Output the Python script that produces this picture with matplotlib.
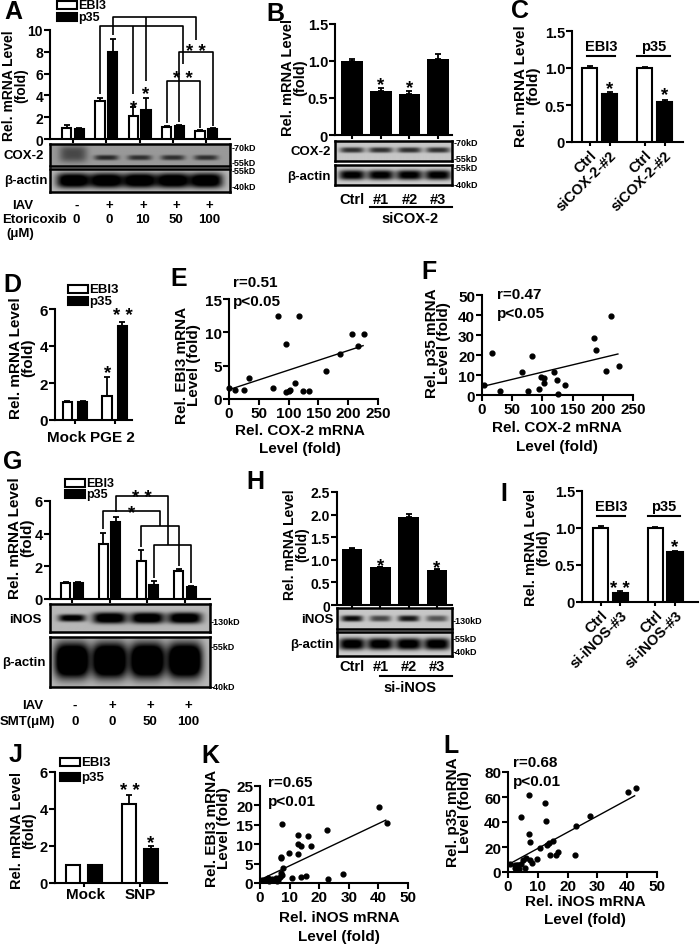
import numpy as np
import matplotlib
matplotlib.use("Agg")
import matplotlib.pyplot as plt
from matplotlib.patches import Rectangle
from matplotlib.lines import Line2D
from matplotlib.transforms import blended_transform_factory

plt.rcParams['font.family'] = ['Liberation Sans', 'DejaVu Sans']
plt.rcParams['font.weight'] = 'bold'
plt.rcParams['axes.linewidth'] = 1.5

# ---------------- data ----------------
# A: IAV + etoricoxib
A_EBI3 = [1.0, 3.5, 2.1, 1.1, 0.72]
A_EBI3_ERR = [0.3, 0.3, 0.8, 0.1, 0.06]
A_P35 = [0.95, 8.0, 2.7, 1.2, 0.9]
A_P35_ERR = [0.1, 1.2, 1.1, 0.1, 0.1]
A_IAV = ['-', '+', '+', '+', '+']
A_DOSE = ['0', '0', '10', '50', '100']
A_COX2_BAND = [0.32, 0.45, 0.42, 0.42, 0.42]
A_ACTIN_BAND = [0.9, 0.9, 0.9, 0.9, 0.9]

# B: siCOX-2
B_LANES = ['Ctrl', '#1', '#2', '#3']
B_VAL = [1.0, 0.6, 0.56, 1.03]
B_ERR = [0.03, 0.04, 0.03, 0.07]
B_COX2_BAND = [0.6, 0.6, 0.6, 0.6]
B_ACTIN_BAND = [0.85, 0.85, 0.85, 0.85]

# C: siCOX-2-#2
C_LABELS = ['Ctrl', 'siCOX-2-#2', 'Ctrl', 'siCOX-2-#2']
C_VAL = [1.0, 0.65, 1.0, 0.54]
C_ERR = [0.03, 0.02, 0.01, 0.03]

# D: PGE2
D_GROUPS = ['Mock', 'PGE 2']
D_EBI3 = [1.0, 1.3]
D_EBI3_ERR = [0.05, 1.0]
D_P35 = [1.0, 5.1]
D_P35_ERR = [0.03, 0.2]

# E / F: correlation with COX-2
E_COX2 = [0, 10, 25, 34, 73, 82, 95, 96, 100, 102, 111, 117, 124, 135, 163, 186, 207, 216, 227]
E_EBI3 = [1.7, 1.4, 1.4, 3.1, 1.7, 12.5, 1.0, 8.2, 1.2, 1.3, 2.4, 12.4, 1.2, 1.2, 4.2, 6.8, 9.8, 7.9, 9.7]
E_FIT_X = [0, 225]
E_FIT_Y = [1.4, 8.0]
F_COX2 = [3, 17, 29, 67, 76, 83, 95, 97, 102, 103, 119, 124, 125, 137, 185, 189, 206, 214, 226]
F_P35 = [5, 21, 2.2, 11.7, 2, 19.7, 3, 8.8, 6.2, 8.7, 11.5, 7.5, 0.5, 5.2, 28.7, 22.5, 12, 39.5, 14.7]
F_FIT_X = [0, 225]
F_FIT_Y = [4.2, 20.5]

# G: IAV + SMT
G_EBI3 = [1.0, 3.35, 2.3, 1.7]
G_EBI3_ERR = [0.05, 0.7, 0.7, 0.12]
G_P35 = [1.0, 4.7, 0.85, 0.72]
G_P35_ERR = [0.03, 0.35, 0.25, 0.07]
G_IAV = ['-', '+', '+', '+']
G_DOSE = ['0', '0', '50', '100']
G_INOS_BAND = [0.8, 0.9, 0.9, 0.9]
G_ACTIN_BAND = [1.15, 1.15, 1.15, 1.15]

# H: si-iNOS
H_LANES = ['Ctrl', '#1', '#2', '#3']
H_VAL = [1.25, 0.83, 1.95, 0.78]
H_ERR = [0.02, 0.02, 0.06, 0.02]
H_INOS_BAND = [0.75, 0.5, 0.7, 0.45]
H_ACTIN_BAND = [0.9, 0.9, 0.9, 0.9]

# I: si-iNOS-#3
I_LABELS = ['Ctrl', 'si-iNOS-#3', 'Ctrl', 'si-iNOS-#3']
I_VAL = [1.0, 0.12, 1.0, 0.68]
I_ERR = [0.03, 0.03, 0.02, 0.01]

# J: SNP
J_GROUPS = ['Mock', 'SNP']
J_EBI3 = [1.0, 4.25]
J_EBI3_ERR = [0.0, 0.5]
J_P35 = [1.0, 1.85]
J_P35_ERR = [0.0, 0.15]

# K / L: correlation with iNOS
K_INOS = [0.6, 2.0, 2.2, 2.8, 3.1, 3.9, 4.7, 5.4, 5.6, 6.2, 6.7, 7.0, 7.3, 7.0, 7.1, 7.3,
          7.9, 9.9, 10.9, 12.7, 12.9, 12.9, 13.8, 14.0, 15.5, 16.1, 17.1, 22.7, 23.0, 27.9, 40.2, 42.9]
K_EBI3 = [0.7, 0.9, 1.1, 1.3, 0.6, 1.1, 0.8, 1.3, 0.4, 0.9, 1.5, 2.6, 2.0, 6.4, 6.8, 15.2,
          3.8, 7.8, 1.3, 10.1, 12.4, 7.5, 1.5, 9.5, 1.8, 12.2, 9.5, 13.7, 1.1, 2.4, 19.7, 15.4]
K_FIT_X = [0.5, 42.5]
K_FIT_Y = [1.0, 16.2]
L_INOS = [0.6, 2.2, 2.2, 2.6, 2.8, 3.0, 3.4, 3.7, 4.5, 4.5, 5.1, 5.6, 6.2, 7.0, 7.1, 7.3, 7.3,
          7.9, 9.6, 10.9, 12.4, 12.9, 13.1, 13.8, 14.0, 15.2, 16.1, 16.9, 22.5, 22.8, 27.5, 40.2, 42.9]
L_P35 = [6.6, 5.3, 3.2, 4.0, 2.7, 5.8, 5.3, 2.1, 6.6, 44.3, 9.3, 3.2, 11.1, 61.5, 30.5, 24.4, 9.3,
         7.4, 10.6, 19.1, 55.2, 41.1, 22.0, 23.3, 13.8, 25.2, 13.3, 16.4, 13.3, 37.1, 44.6, 64.2, 67.6]
L_FIT_X = [0.5, 42.5]
L_FIT_Y = [6.5, 61.0]

# ---------------- helpers ----------------
W, H = 700, 945
fig = plt.figure(figsize=(7, 9.45), dpi=100)


def px_axes(left, top, width, height):
    return fig.add_axes([left / W, 1 - (top + height) / H, width / W, height / H])


def T(x, y, s, fs=10, ha='center', va='center', rot=0, **kw):
    fig.text(x / W, 1 - y / H, s, fontsize=fs, ha=ha, va=va, rotation=rot,
             fontweight='bold', **kw)


def ylab(x, y, s, fs=10.5):
    T(x, y, s, fs=fs, rot=90, linespacing=0.85)


def letter(x, y, s):
    T(x, y, s, fs=18, ha='left')


def hline(x1, x2, y, lw=1.5):
    fig.add_artist(Line2D([x1 / W, x2 / W], [1 - y / H] * 2, color='k', lw=lw))


def legend(x, y1, y2, fs=9.5):
    for y, fc, lab in [(y1, 'white', 'EBI3'), (y2, 'black', 'p35')]:
        fig.add_artist(Rectangle((x / W, 1 - (y + 4) / H), 20 / W, 8 / H,
                                 transform=fig.transFigure, fc=fc, ec='k', lw=1.5))
        T(x + 21, y, lab, fs=fs, ha='left')


def style(ax, fs=10):
    for s in ['top', 'right']:
        ax.spines[s].set_visible(False)
    ax.tick_params(direction='out', length=4, width=1.5, labelsize=fs, pad=1)


def star(ax, x, y, s, fs=13.5):
    if s == '**':
        s = '* *'
    ax.annotate(s, (x, y), xytext=(0, -0.575 * fs), textcoords='offset points',
                ha='center', va='baseline', fontsize=fs, annotation_clip=False)


def bracket_line(ax, xs, ys):
    ax.plot(xs, ys, color='k', lw=1.2, clip_on=False, solid_capstyle='butt')


def paired_bars(ax, white, white_err, black, black_err, off, width):
    x = np.arange(len(white))
    for xs, v, e, col in [(x - off, white, white_err, 'white'), (x + off, black, black_err, 'black')]:
        ax.bar(xs, v, width, color=col, edgecolor='black', linewidth=1.5, zorder=3)
        ax.errorbar(xs, v, yerr=[np.zeros(len(v)), e], fmt='none', ecolor='black',
                    elinewidth=1.3, capsize=2.5, capthick=1.3, zorder=2, clip_on=False)
    ax.set_xticks(x)
    ax.set_xticklabels([])
    ax.tick_params(axis='x', length=3)


def blot(rect, xlim, centers, bands, bg, yc, thick, halfw):
    ax = px_axes(*rect)
    n = len(centers)
    yc, thick, halfw = [np.broadcast_to(v, n) for v in (yc, thick, halfw)]
    xs = np.linspace(xlim[0], xlim[1], 300)
    ys = np.linspace(0, 1, 80)
    X, Y = np.meshgrid(xs, ys)
    img = np.full_like(X, bg)
    for c, a, y0, t, hw in zip(centers, bands, yc, thick, halfw):
        img -= a * np.exp(-np.abs((X - c) / hw) ** 4) * np.exp(-np.abs((Y - y0) / t) ** 3)
    ax.imshow(np.clip(img, 0, 1), cmap='gray', vmin=0, vmax=1, aspect='auto',
              extent=[xlim[0], xlim[1], 1, 0], interpolation='bilinear')
    ax.set_xlim(xlim)
    ax.set_xticks([])
    ax.set_yticks([])
    for s in ax.spines.values():
        s.set_linewidth(1.8)
    return ax


def lane_text(ax, xs, y, labels, fs=9.5):
    tr = blended_transform_factory(ax.transData, fig.transFigure)
    for x, s in zip(xs, labels):
        ax.text(x, 1 - y / H, s, transform=tr, ha='center', va='center',
                fontsize=fs, fontweight='bold', clip_on=False)


def scatter_panel(rect, xs, ys, fx, fy, xlim, ylim, xticks, yticks):
    ax = px_axes(*rect)
    style(ax, 11)
    ax.scatter(xs, ys, s=12, color='black', zorder=3, clip_on=False)
    ax.plot(fx, fy, color='black', lw=1.0)
    ax.set_xlim(xlim)
    ax.set_ylim(ylim)
    ax.set_xticks(xticks)
    ax.set_yticks(yticks)
    return ax


# ---------------- panel A ----------------
axA = px_axes(50, 31, 180, 109)
style(axA, 10)
A_XLIM = (-0.69, 4.71)
axA.set_xlim(A_XLIM)
axA.set_ylim(0, 10)
axA.set_yticks([0, 2, 4, 6, 8, 10])
paired_bars(axA, A_EBI3, A_EBI3_ERR, A_P35, A_P35_ERR, 0.19, 0.28)
# significance brackets
bracket_line(axA, [1.19, 1.19, 3.69, 3.69], [9.5, 11.15, 11.15, 9.1])
bracket_line(axA, [2.19, 2.19], [5.35, 11.15])
bracket_line(axA, [0.81, 0.81, 3.31, 3.31], [4.1, 10.4, 10.4, 6.9])
bracket_line(axA, [1.81, 1.81], [4.1, 10.4])
bracket_line(axA, [3.19, 3.19, 4.19, 4.19], [1.6, 8.0, 8.0, 1.2])
bracket_line(axA, [2.81, 2.81, 3.81, 3.81], [1.5, 5.35, 5.35, 1.0])
star(axA, 1.81, 3.5, '*')
star(axA, 2.19, 4.7, '*')
star(axA, 3.69, 8.6, '**')
star(axA, 3.31, 6.1, '**')
lanesA = np.arange(5)
blot((50, 145, 180, 22), A_XLIM, lanesA, A_COX2_BAND, 0.6,
     [0.45, 0.62, 0.62, 0.62, 0.62], [0.38, 0.12, 0.12, 0.12, 0.12], [0.42, 0.36, 0.36, 0.36, 0.36])
blot((50, 170, 180, 23), A_XLIM, lanesA, A_ACTIN_BAND, 0.72, 0.5, 0.33, 0.5)
legend(57, 6, 18, fs=9)
letter(4, 12, 'A')
ylab(15, 86, 'Rel. mRNA Level\n(fold)', fs=10)
T(44, 156, 'COX-2', fs=9.5, ha='right')
T(48, 181, 'β-actin', fs=9.5, ha='right')
for y, s in [(149, '-70kD'), (163, '-55kD'), (172, '-55kD'), (188, '-40kD')]:
    T(232, y, s, fs=6.5, ha='left')
T(33, 206, 'IAV', fs=9.5, ha='right')
T(2, 220, 'Etoricoxib', fs=9.5, ha='left')
T(20, 234, '(μM)', fs=9.5)
lane_text(axA, lanesA + 0.1, 206, A_IAV)
lane_text(axA, lanesA + 0.1, 220, A_DOSE)

# ---------------- panel B ----------------
axB = px_axes(335, 25, 117, 111)
style(axB, 10.5)
B_XLIM = (-0.59, 3.48)
axB.set_xlim(B_XLIM)
axB.set_ylim(0, 1.5)
axB.set_yticks([0, 0.5, 1.0, 1.5])
axB.set_yticklabels(['0', '0.5', '1.0', '1.5'])
xb = np.arange(4)
axB.bar(xb, B_VAL, 0.76, color='black', zorder=3)
axB.errorbar(xb, B_VAL, yerr=[np.zeros(4), B_ERR], fmt='none', ecolor='black',
             elinewidth=1.3, capsize=2.5, capthick=1.3, zorder=2)
axB.set_xticks(xb)
axB.set_xticklabels([])
axB.tick_params(axis='x', length=3)
star(axB, 1, 0.76, '*')
star(axB, 2, 0.72, '*')
blot((335, 142, 117, 20), B_XLIM, xb, B_COX2_BAND, 0.78, 0.45, 0.14, 0.42)
blot((335, 166, 117, 20), B_XLIM, xb, B_ACTIN_BAND, 0.8, 0.5, 0.25, 0.46)
letter(266, 14, 'B')
ylab(294, 78, 'Rel. mRNA Level\n(fold)', fs=10.5)
T(331, 152, 'COX-2', fs=9.5, ha='right')
T(331, 177, 'β-actin', fs=9.5, ha='right')
for y, s in [(144, '-70kD'), (160, '-55kD'), (169, '-55kD'), (185, '-40kD')]:
    T(454, y, s, fs=6.5, ha='left')
lane_text(axB, xb, 200, B_LANES, fs=10.5)
hline(370, 452, 208)
T(410, 219, 'siCOX-2', fs=10.5)

# ---------------- panel C ----------------
axC = px_axes(572, 32, 111, 111)
style(axC, 10.5)
xc = [0, 1, 2.75, 3.75]
axC.set_xlim(-0.875, 4.675)
axC.set_ylim(0, 1.5)
axC.set_yticks([0, 0.5, 1.0, 1.5])
axC.set_yticklabels(['0', '0.5', '1.0', '1.5'])
axC.bar(xc, C_VAL, 0.75, color=['white', 'black', 'white', 'black'],
        edgecolor='black', linewidth=1.5, zorder=3)
axC.errorbar(xc, C_VAL, yerr=[np.zeros(4), C_ERR], fmt='none', ecolor='black',
             elinewidth=1.3, capsize=2.5, capthick=1.3, zorder=2)
axC.set_xticks(xc)
axC.set_xticklabels(C_LABELS, rotation=45, ha='right', rotation_mode='anchor', fontsize=10.5)
axC.tick_params(axis='x', length=3)
star(axC, 1, 0.81, '*')
star(axC, 3.75, 0.72, '*')
letter(511, 11, 'C')
ylab(527, 86, 'Rel. mRNA Level\n(fold)', fs=11)
T(601, 47, 'EBI3', fs=10.5)
hline(587, 615, 57)
T(654, 47, 'p35', fs=10.5)
hline(637, 670, 57)

# ---------------- panel D ----------------
axD = px_axes(55, 310, 77, 111)
style(axD, 11)
axD.set_xlim(-0.5, 1.43)
axD.set_ylim(0, 6)
axD.set_yticks([0, 2, 4, 6])
paired_bars(axD, D_EBI3, D_EBI3_ERR, D_P35, D_P35_ERR, 0.19, 0.24)
star(axD, 1 - 0.19, 2.9, '*')
star(axD, 1 + 0.19, 6.0, '**')
legend(68, 290, 302)
letter(3, 285, 'D')
ylab(22, 358, 'Rel. mRNA Level\n(fold)', fs=11)
T(67, 438, D_GROUPS[0], fs=11)
T(112, 438, D_GROUPS[1], fs=11)

# ---------------- panel E ----------------
axE = scatter_panel((229, 300, 149, 100), E_COX2, E_EBI3, E_FIT_X, E_FIT_Y,
                    (0, 250), (0, 15), [0, 50, 100, 150, 200, 250], [0, 5, 10, 15])
letter(170, 279, 'E')
ylab(188, 365, 'Rel. EBI3 mRNA\nLevel (fold)', fs=11)
T(233, 283, 'r=0.51', fs=11, ha='left')
T(233, 302, 'p<0.05', fs=11, ha='left')
T(300, 431, 'Rel. COX-2 mRNA', fs=11)
T(300, 449, 'Level (fold)', fs=11)

# ---------------- panel F ----------------
axF = scatter_panel((482, 296, 151, 100), F_COX2, F_P35, F_FIT_X, F_FIT_Y,
                    (0, 250), (0, 50), [0, 50, 100, 150, 200, 250], [0, 10, 20, 30, 40, 50])
letter(421, 272, 'F')
ylab(438, 343, 'Rel. p35 mRNA\nLevel (fold)', fs=11)
T(497, 295, 'r=0.47', fs=11, ha='left')
T(497, 314, 'p<0.05', fs=11, ha='left')
T(557, 428, 'Rel. COX-2 mRNA', fs=11)
T(557, 447, 'Level (fold)', fs=11)

# ---------------- panel G ----------------
axG = px_axes(50, 502, 160, 98)
style(axG, 10.5)
G_XLIM = (-0.58, 3.66)
axG.set_xlim(G_XLIM)
axG.set_ylim(0, 6)
axG.set_yticks([0, 2, 4, 6])
paired_bars(axG, G_EBI3, G_EBI3_ERR, G_P35, G_P35_ERR, 0.167, 0.24)
bracket_line(axG, [1.167, 1.167, 2.55, 2.55], [5.3, 6.3, 6.3, 3.29])
bracket_line(axG, [0.833, 0.833, 2.333, 2.333], [4.3, 5.39, 5.39, 4.47])
bracket_line(axG, [1.833, 1.833, 2.833, 2.833], [3.2, 4.47, 4.47, 2.0])
bracket_line(axG, [2.167, 2.167, 3.167, 3.167], [1.3, 3.29, 3.29, 1.0])
star(axG, 1.86, 6.6, '**')
star(axG, 1.58, 5.7, '*')
lanesG = np.arange(4)
blot((50, 605, 160, 28), G_XLIM, lanesG, G_INOS_BAND, 0.72, 0.5,
     [0.13, 0.2, 0.2, 0.2], [0.36, 0.45, 0.45, 0.45])
blot((50, 638, 160, 50), G_XLIM, lanesG, G_ACTIN_BAND, 0.72, 0.47, 0.36, 0.46)
legend(65, 484, 495, fs=9)
letter(3, 462, 'G')
ylab(21, 538, 'Rel. mRNA Level\n(fold)', fs=11)
T(42, 620, 'iNOS', fs=9.5, ha='right')
T(46, 663, 'β-actin', fs=9.5, ha='right')
for y, s in [(623, '-130kD'), (648, '-55kD'), (688, '-40kD')]:
    T(211, y, s, fs=6.5, ha='left')
T(43, 706, 'IAV', fs=9.5, ha='right')
T(0, 722, 'SMT(μM)', fs=9.5, ha='left')
lane_text(axG, lanesG + 0.08, 706, G_IAV)
lane_text(axG, lanesG + 0.08, 722, G_DOSE)

# ---------------- panel H ----------------
axH = px_axes(337, 493, 115, 113)
style(axH, 10)
H_XLIM = (-0.53, 3.53)
axH.set_xlim(H_XLIM)
axH.set_ylim(0, 2.5)
axH.set_yticks([0, 0.5, 1.0, 1.5, 2.0, 2.5])
axH.set_yticklabels(['0', '0.5', '1.0', '1.5', '2.0', '2.5'])
xh = np.arange(4)
axH.bar(xh, H_VAL, 0.74, color='black', zorder=3)
axH.errorbar(xh, H_VAL, yerr=[np.zeros(4), H_ERR], fmt='none', ecolor='black',
             elinewidth=1.3, capsize=2.5, capthick=1.3, zorder=2)
axH.set_xticks(xh)
axH.set_xticklabels([])
axH.tick_params(axis='x', length=3)
star(axH, 1, 1.02, '*')
star(axH, 3, 0.96, '*')
blot((337, 609, 115, 21), H_XLIM, xh, H_INOS_BAND, 0.78, 0.5, 0.15, 0.38)
blot((337, 633, 115, 24), H_XLIM, xh, H_ACTIN_BAND, 0.8, 0.5, 0.25, 0.46)
letter(246, 482, 'H')
ylab(296, 545, 'Rel. mRNA Level\n(fold)', fs=10)
T(334, 620, 'iNOS', fs=9.5, ha='right')
T(334, 645, 'β-actin', fs=9.5, ha='right')
for y, s in [(622, '-130kD'), (639, '-55kD'), (653, '-40kD')]:
    T(453, y, s, fs=6.5, ha='left')
lane_text(axH, xh, 667, H_LANES, fs=10.5)
hline(380, 452, 677)
T(410, 688, 'si-iNOS', fs=10.5)

# ---------------- panel I ----------------
axI = px_axes(582, 492, 116, 111)
style(axI, 10.5)
xi = [0, 1, 2.82, 3.82]
axI.set_xlim(-0.95, 5.0)
axI.set_ylim(0, 1.5)
axI.set_yticks([0, 0.5, 1.0, 1.5])
axI.set_yticklabels(['0', '0.5', '1.0', '1.5'])
axI.bar(xi, I_VAL, 0.77, color=['white', 'black', 'white', 'black'],
        edgecolor='black', linewidth=1.5, zorder=3)
axI.errorbar(xi, I_VAL, yerr=[np.zeros(4), I_ERR], fmt='none', ecolor='black',
             elinewidth=1.3, capsize=2.5, capthick=1.3, zorder=2)
axI.set_xticks(xi)
axI.set_xticklabels(I_LABELS, rotation=45, ha='right', rotation_mode='anchor', fontsize=10.5)
axI.tick_params(axis='x', length=3)
star(axI, 1, 0.27, '**')
star(axI, 3.82, 0.83, '*')
letter(500, 494, 'I')
ylab(537, 548, 'Rel. mRNA Level\n(fold)', fs=10.5)
T(611, 507, 'EBI3', fs=10.5)
hline(597, 625, 517)
T(664, 507, 'p35', fs=10.5)
hline(648, 680, 517)

# ---------------- panel J ----------------
axJ = px_axes(55, 773, 112, 111)
style(axJ, 10.5)
axJ.set_xlim(-0.52, 1.48)
axJ.set_ylim(0, 6)
axJ.set_yticks([0, 2, 4, 6])
paired_bars(axJ, J_EBI3, J_EBI3_ERR, J_P35, J_P35_ERR, 0.19, 0.25)
star(axJ, 1 - 0.19, 5.35, '**')
star(axJ, 1 + 0.19, 2.55, '*')
legend(60, 763, 778)
letter(9, 755, 'J')
ylab(23, 831, 'Rel. mRNA Level\n(fold)', fs=10.5)
T(86, 895, J_GROUPS[0], fs=11)
T(140, 895, J_GROUPS[1], fs=11)

# ---------------- panel K ----------------
axK = scatter_panel((260, 787, 148, 97), K_INOS, K_EBI3, K_FIT_X, K_FIT_Y,
                    (0, 50), (0, 25), [0, 10, 20, 30, 40, 50], [0, 5, 10, 15, 20, 25])
letter(201, 756, 'K')
ylab(218, 828, 'Rel. EBI3 mRNA\nLevel (fold)', fs=11)
T(268, 783, 'r=0.65', fs=11, ha='left')
T(268, 802, 'p<0.01', fs=11, ha='left')
T(339, 918, 'Rel. iNOS mRNA', fs=11)
T(339, 937, 'Level (fold)', fs=11)

# ---------------- panel L ----------------
axL = scatter_panel((508, 773, 149, 100), L_INOS, L_P35, L_FIT_X, L_FIT_Y,
                    (0, 50), (0, 80), [0, 10, 20, 30, 40, 50], [0, 20, 40, 60, 80])
letter(443, 746, 'L')
ylab(459, 812, 'Rel. p35 mRNA\nLevel (fold)', fs=11)
T(513, 763, 'r=0.68', fs=11, ha='left')
T(513, 782, 'p<0.01', fs=11, ha='left')
T(585, 902, 'Rel. iNOS mRNA', fs=11)
T(585, 920, 'Level (fold)', fs=11)

fig.savefig('out.png', dpi=100)
